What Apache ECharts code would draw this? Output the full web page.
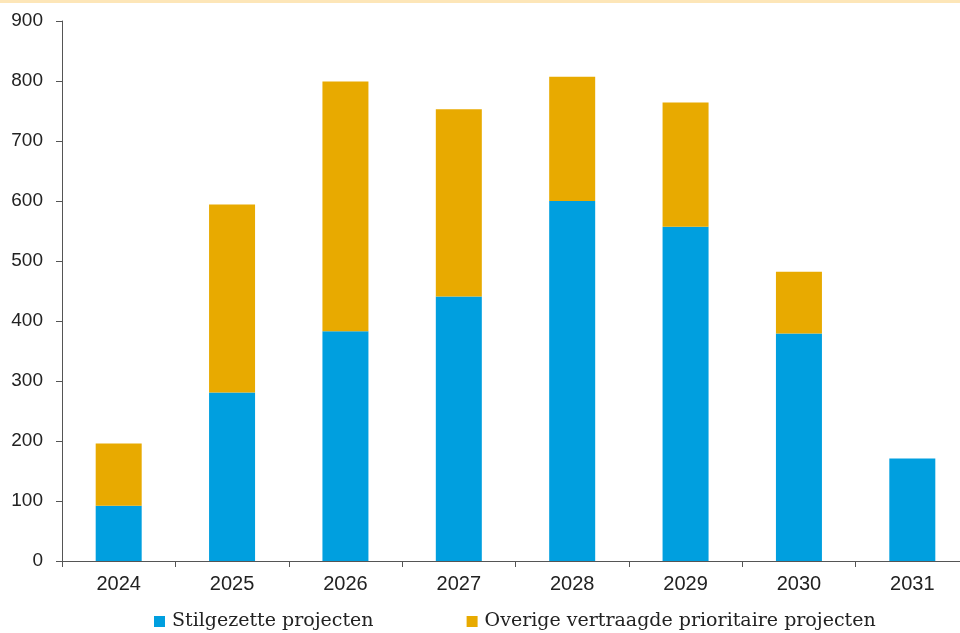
<!DOCTYPE html>
<html><head><meta charset="utf-8">
<script src="https://cdn.jsdelivr.net/npm/echarts@6/dist/echarts.min.js"></script>
<style>html,body{margin:0;padding:0;background:#fff;overflow:hidden}#c{width:970px;height:633px}</style>
</head><body><div id="c"></div>
<script>
const categories = ['2024','2025','2026','2027','2028','2029','2030','2031'];
const stilgezet = [92, 281, 383, 441, 600, 557, 379, 171];
const overige = [104, 313, 416, 312, 207, 207, 103, 0];
const seriesNames = ['Stilgezette projecten', 'Overige vertraagde prioritaire projecten'];

const chart = echarts.init(document.getElementById('c'));
chart.setOption({
  animation: false,
  backgroundColor: '#fff',
  graphic: [{type:'rect', shape:{x:0,y:0,width:970,height:3}, style:{fill:'#fde6b8'}}],
  grid: {left: 62, top: 21, right: 1, bottom: 72},
  legend: {
    left: 149, top: 607, itemWidth: 11, itemHeight: 11, itemGap: 93, icon: 'rect',
    textStyle: {fontFamily: 'DejaVu Serif', fontSize: 19, color: '#222', padding: [0,0,0,2]},
    data: seriesNames
  },
  xAxis: {
    type: 'category', data: categories,
    axisLine: {lineStyle: {color: '#555', width: 1}},
    axisTick: {show: true, length: 6, lineStyle: {color: '#555'}},
    axisLabel: {fontFamily: 'Liberation Sans', fontSize: 20, color: '#222', margin: 13}
  },
  yAxis: {
    type: 'value', min: 0, max: 900, interval: 100,
    axisLine: {show: true, lineStyle: {color: '#555', width: 1}},
    axisTick: {show: true, length: 6, lineStyle: {color: '#555'}},
    splitLine: {show: false},
    axisLabel: {fontFamily: 'Liberation Sans', fontSize: 19, color: '#222', margin: 19}
  },
  series: [
    {name: seriesNames[0], type: 'bar', stack: 't', data: stilgezet, barWidth: 46, itemStyle: {color: '#009fdf'}},
    {name: seriesNames[1], type: 'bar', stack: 't', data: overige, barWidth: 46, itemStyle: {color: '#e8aa00'}}
  ]
});
</script></body></html>
